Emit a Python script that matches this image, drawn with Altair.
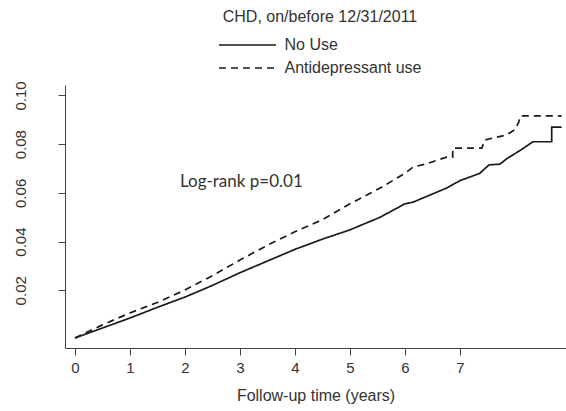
import altair as alt
import pandas as pd

groups = ["No Use", "Antidepressant use"]

# No Use (solid) cumulative incidence
t_no = [0, 0.5, 1, 1.5, 2, 2.5, 3, 3.5, 4, 4.5, 5, 5.55, 6, 6.15, 6.76, 7, 7.36,
        7.53, 7.73, 7.85, 8.1, 8.33, 8.67, 8.67, 8.85]
v_no = [0.0004, 0.0045, 0.0086, 0.013, 0.0172, 0.022, 0.0272, 0.032, 0.0368, 0.041,
        0.0448, 0.050, 0.0555, 0.0562, 0.062, 0.065, 0.068, 0.0715, 0.0718, 0.074,
        0.0775, 0.081, 0.081, 0.087, 0.087]

# Antidepressant use (dashed)
t_ad = [0, 0.5, 1, 1.5, 2, 2.5, 3, 3.5, 4, 4.5, 5, 5.55, 6, 6.15, 6.4, 6.76, 6.87,
        6.87, 7.4, 7.45, 7.85, 8.0, 8.07, 8.1, 8.85]
v_ad = [0.0004, 0.0058, 0.0107, 0.015, 0.0201, 0.026, 0.0324, 0.0385, 0.044, 0.049,
        0.0555, 0.062, 0.068, 0.0706, 0.072, 0.0747, 0.0747, 0.0784, 0.0784, 0.0817,
        0.0838, 0.086, 0.089, 0.0916, 0.0916]

x_ticks = [0, 1, 2, 3, 4, 5, 6, 7]
y_ticks = [0.02, 0.04, 0.06, 0.08, 0.10]

title_text = "CHD, on/before 12/31/2011"
x_title = "Follow-up time (years)"
annot_text = ["Log-rank p=0.01"]
annot_t = [1.91]
annot_v = [0.0645]

rows = []
for i, (t, v) in enumerate(zip(t_no, v_no)):
    rows.append({"group": groups[0], "t": t, "v": v, "i": i})
for i, (t, v) in enumerate(zip(t_ad, v_ad)):
    rows.append({"group": groups[1], "t": t, "v": v, "i": i})
df = pd.DataFrame(rows)
adf = pd.DataFrame({"t": annot_t, "v": annot_v, "label": annot_text})

FONT = "Liberation Sans"
INK = "#1a1a1a"

xscale = alt.Scale(domain=[-0.18, 8.93], nice=False, zero=False)
yscale = alt.Scale(domain=[-0.0037, 0.1043], nice=False, zero=False)

lines = alt.Chart(df).mark_line(color=INK, strokeWidth=1.7).encode(
    x=alt.X("t:Q", scale=xscale,
            axis=alt.Axis(values=x_ticks, format="d", title=x_title, grid=False,
                          labelFont=FONT, labelFontSize=15, labelColor="#333",
                          labelPadding=5, tickSize=7, tickColor="#444",
                          domainColor="#444", titleFont=FONT, titleFontSize=16,
                          titleFontWeight="normal", titleColor="#333",
                          titlePadding=12)),
    y=alt.Y("v:Q", scale=yscale,
            axis=alt.Axis(values=y_ticks, format=".2f", title=None, grid=False,
                          labelFont=FONT, labelFontSize=15, labelColor="#333",
                          labelAngle=270, labelAlign="center",
                          labelBaseline="alphabetic", labelPadding=33,
                          tickSize=7, tickColor="#444", domainColor="#444")),
    strokeDash=alt.StrokeDash(
        "group:N",
        scale=alt.Scale(domain=groups, range=[[1, 0], [7, 5]]),
        legend=alt.Legend(orient="none", legendX=174.5, legendY=-48, title=None,
                          symbolType="M-5,0H5", symbolSize=130,
                          symbolStrokeWidth=1.7, symbolStrokeColor=INK,
                          labelFont=FONT, labelFontSize=16, labelColor="#333",
                          labelOffset=29, rowPadding=7, padding=0)),
    order="i:Q",
)

annot = alt.Chart(adf).mark_text(font="Lato", fontSize=17, align="left",
                                 baseline="middle", color="#333").encode(
    x="t:Q", y="v:Q", text="label:N")

chart = alt.layer(lines, annot).properties(
    width=501, height=263,
    padding={"left": 65, "top": 85, "right": 0, "bottom": 63},
    autosize=alt.AutoSizeParams(type="none"),
    title=alt.TitleParams(title_text, font=FONT, fontSize=16, fontWeight="normal",
                          color="#333", anchor="middle", dx=4.5, offset=12),
).configure_view(stroke=None)

chart.save("out.html", embed_options={"renderer": "svg", "actions": False})
